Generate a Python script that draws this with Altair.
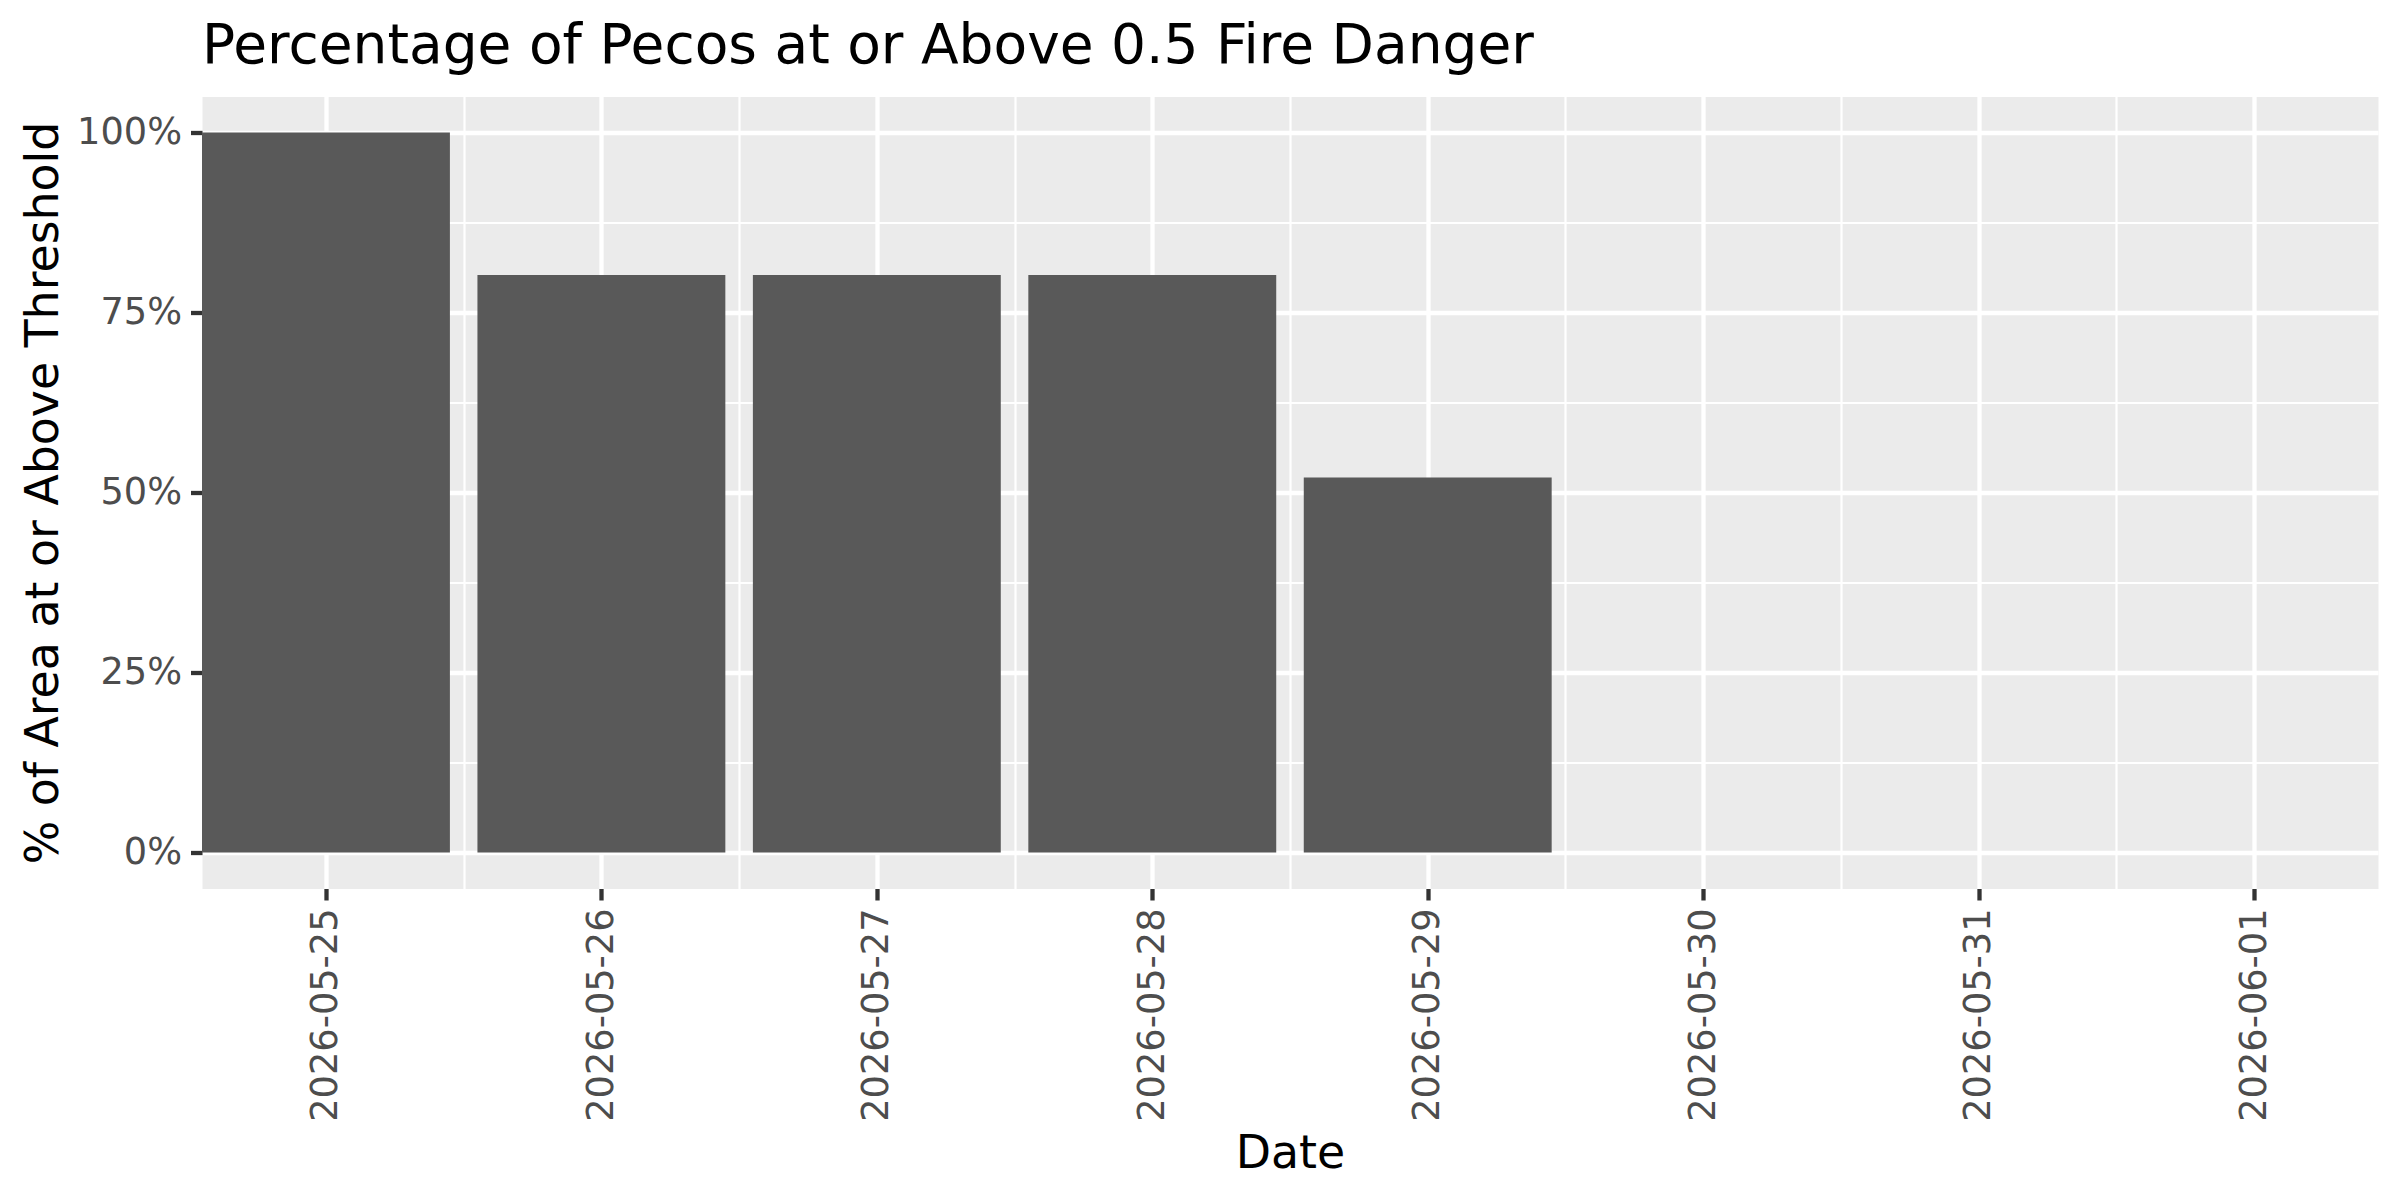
import altair as alt
import pandas as pd

# ---- data ----
dates = ["2026-05-25", "2026-05-26", "2026-05-27", "2026-05-28",
         "2026-05-29", "2026-05-30", "2026-05-31", "2026-06-01"]
pct = [100, 80.2, 80.2, 80.2, 52.1, 0, 0, 0]
y_ticks = [0, 25, 50, 75, 100]

title_text = "Percentage of Pecos at or Above 0.5 Fire Danger"
x_title = "Date"
y_title = "% of Area at or Above Threshold"

df = pd.DataFrame({"date": dates, "pct": pct, "idx": list(range(len(dates)))})

FONT = "DejaVu Sans"
W, H = 2176, 792
BAR_HALF = 0.45

# major + minor (midpoint) positions for grid lines
x_vals = [i / 2 for i in range(0, 2 * len(dates) - 1)]
y_vals = []
for a, b in zip(y_ticks[:-1], y_ticks[1:]):
    y_vals += [a, (a + b) / 2]
y_vals.append(y_ticks[-1])

date_arr = "[" + ",".join(f"'{d}'" for d in dates) + "]"

minor_x = "datum.value % 1 !== 0"
minor_y = "datum.value % 25 !== 0"

x_axis = alt.Axis(
    values=x_vals,
    labelExpr=f"datum.value % 1 === 0 ? {date_arr}[datum.value] : ''",
    labelAngle=270, labelAlign="right", labelBaseline="middle",
    labelPadding=8, labelFontSize=36.7, labelColor="#4D4D4D", labelFont=FONT,
    labelOverlap=False, labelFlush=False, labelLimit=0,
    tickSize=11.5, tickWidth=4.3, tickColor="#333333",
    tickOpacity={"condition": {"test": minor_x, "value": 0}, "value": 1},
    grid=True, gridColor="#FFFFFF",
    gridWidth={"condition": {"test": minor_x, "value": 2.2}, "value": 4.3},
    domain=False,
    title=x_title, titleFont=FONT, titleFontSize=45.8, titleColor="#000000",
    titleFontWeight="normal", titleX=W / 2, titleY=278.5,
    titleBaseline="alphabetic", titleAlign="center",
)

y_axis = alt.Axis(
    values=y_vals,
    labelExpr="datum.value % 25 === 0 ? datum.value + '%' : ''",
    labelPadding=9, labelFontSize=36.7, labelColor="#4D4D4D", labelFont=FONT,
    labelOverlap=False, labelFlush=False, labelBaseline="middle", labelLimit=0,
    tickSize=11.5, tickWidth=4.3, tickColor="#333333",
    tickOpacity={"condition": {"test": minor_y, "value": 0}, "value": 1},
    grid=True, gridColor="#FFFFFF",
    gridWidth={"condition": {"test": minor_y, "value": 2.2}, "value": 4.3},
    domain=False,
    title=y_title, titleFont=FONT, titleFontSize=45.8, titleColor="#000000",
    titleFontWeight="normal", titleAngle=270, titleX=-145, titleY=H / 2,
    titleBaseline="alphabetic", titleAlign="center",
)

chart = (
    alt.Chart(df)
    .transform_calculate(x0=f"datum.idx - {BAR_HALF}", x1=f"datum.idx + {BAR_HALF}")
    .mark_bar(color="#595959")
    .encode(
        x=alt.X("x0:Q", axis=x_axis,
                scale=alt.Scale(domain=[-BAR_HALF, len(dates) - 1 + BAR_HALF],
                                nice=False, zero=False)),
        x2="x1:Q",
        y=alt.Y("pct:Q", axis=y_axis, stack=None,
                scale=alt.Scale(domain=[-5, 105], nice=False, zero=False)),
        y2=alt.datum(0),
    )
    .properties(
        width=W, height=H,
        title=alt.TitleParams(text=title_text, anchor="start", frame="group",
                              fontSize=55, font=FONT, color="#000000",
                              fontWeight="normal", baseline="alphabetic",
                              offset=33.5, dy=55),
        autosize=alt.AutoSizeParams(type="none"),
        padding={"left": 194, "top": 88.5, "right": 14, "bottom": 300},
        background="#FFFFFF",
    )
    .configure_view(fill="#EBEBEB", stroke="transparent")
)

chart.save("out.html", embed_options={"renderer": "svg", "actions": False})
